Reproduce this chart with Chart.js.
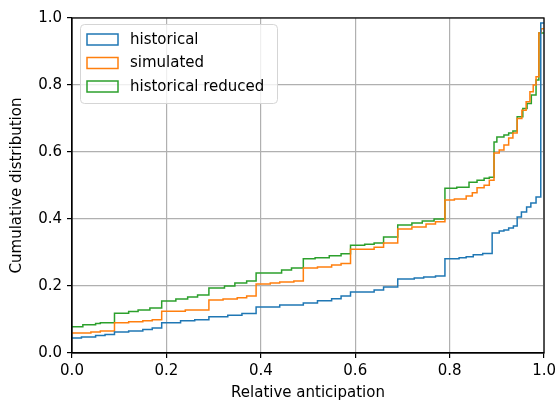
<!DOCTYPE html>
<html>
<head>
<meta charset="utf-8">
<script src="https://cdn.jsdelivr.net/npm/chart.js@4/dist/chart.umd.min.js"></script>
<style>
  html, body { margin: 0; padding: 0; background: #ffffff; }
  #wrap { width: 560px; height: 406px; }
</style>
</head>
<body>
<div id="wrap"><canvas id="c" width="560" height="406"></canvas></div>
<script>
// Cumulative step curves: left bin edge -> cumulative share from that edge on
const historicalEdges = [0, 0.02, 0.05, 0.07, 0.09, 0.12, 0.15, 0.17, 0.19, 0.23, 0.26, 0.29, 0.33, 0.36, 0.39,
  0.44, 0.49, 0.52, 0.55, 0.57, 0.59, 0.64, 0.66, 0.69, 0.725, 0.745, 0.77, 0.79, 0.82, 0.835, 0.85, 0.87,
  0.89, 0.905, 0.915, 0.925, 0.935, 0.943, 0.952, 0.963, 0.972, 0.983, 0.993];
const historicalValues = [0.045, 0.048, 0.052, 0.055, 0.063, 0.066, 0.070, 0.075, 0.090, 0.096, 0.099, 0.108, 0.113, 0.118, 0.137,
  0.143, 0.149, 0.156, 0.162, 0.170, 0.182, 0.188, 0.197, 0.221, 0.224, 0.227, 0.230, 0.281, 0.284, 0.287, 0.293, 0.297,
  0.358, 0.364, 0.367, 0.373, 0.379, 0.406, 0.421, 0.436, 0.448, 0.466, 0.985];

const simulatedEdges = [0, 0.04, 0.06, 0.09, 0.12, 0.15, 0.17, 0.19, 0.24, 0.29, 0.32, 0.35, 0.37, 0.39,
  0.42, 0.44, 0.47, 0.49, 0.52, 0.55, 0.57, 0.59, 0.64, 0.66, 0.69, 0.72, 0.75, 0.77, 0.79, 0.81, 0.835,
  0.848, 0.858, 0.873, 0.884, 0.894, 0.905, 0.915, 0.925, 0.934, 0.943, 0.953, 0.962, 0.970, 0.977, 0.983,
  0.989, 0.994];
const simulatedValues = [0.060, 0.063, 0.066, 0.090, 0.093, 0.096, 0.099, 0.125, 0.128, 0.158, 0.161, 0.165, 0.170, 0.206,
  0.209, 0.212, 0.215, 0.254, 0.257, 0.263, 0.267, 0.310, 0.316, 0.328, 0.370, 0.376, 0.385, 0.392, 0.457, 0.460, 0.469,
  0.478, 0.493, 0.501, 0.516, 0.597, 0.606, 0.621, 0.642, 0.657, 0.700, 0.725, 0.750, 0.780, 0.800, 0.825,
  0.955, 0.968];

const reducedEdges = [0, 0.023, 0.05, 0.06, 0.09, 0.12, 0.14, 0.165, 0.19, 0.22, 0.245, 0.266, 0.29, 0.323, 0.345, 0.37, 0.39,
  0.444, 0.465, 0.49, 0.515, 0.545, 0.57, 0.59, 0.62, 0.64, 0.66, 0.69, 0.72, 0.742, 0.767, 0.79, 0.815,
  0.841, 0.858, 0.873, 0.884, 0.894, 0.90, 0.915, 0.925, 0.934, 0.943, 0.955, 0.964, 0.973, 0.983, 0.989];
const reducedValues = [0.078, 0.084, 0.088, 0.090, 0.119, 0.124, 0.128, 0.134, 0.155, 0.161, 0.167, 0.173, 0.194, 0.200, 0.209, 0.215, 0.239,
  0.248, 0.254, 0.281, 0.284, 0.290, 0.296, 0.322, 0.325, 0.328, 0.346, 0.382, 0.388, 0.394, 0.400, 0.492, 0.495,
  0.510, 0.516, 0.522, 0.525, 0.630, 0.645, 0.651, 0.657, 0.663, 0.705, 0.730, 0.745, 0.770, 0.815, 0.955];

const seriesNames = ['historical', 'simulated', 'historical reduced'];
const tickValues = [0, 0.2, 0.4, 0.6, 0.8, 1.0];

function stepPoints(edges, values) {
  const pts = edges.map((x, i) => ({ x: x, y: values[i] }));
  pts.push({ x: 1.0, y: values[values.length - 1] });
  return pts;
}

const FONT = 'DejaVu Sans';
const GRID = '#b0b0b0';

// Box around the plotting area (top and right sides too)
const framePlugin = {
  id: 'frame',
  afterDatasetsDraw(chart) {
    const { ctx, chartArea: a } = chart;
    ctx.save();
    ctx.strokeStyle = '#000000';
    ctx.lineWidth = 1.2;
    ctx.strokeRect(a.left, a.top, a.right - a.left, a.bottom - a.top);
    ctx.restore();
  }
};

// Framed legend in the upper-left corner with outlined patch handles
const boxLegendPlugin = {
  id: 'boxLegend',
  afterDraw(chart) {
    const { ctx, chartArea: a } = chart;
    const x0 = a.left + 8, y0 = a.top + 6, w = 197, h = 79, r = 4;
    ctx.save();
    ctx.beginPath();
    ctx.roundRect(x0 + 0.5, y0 + 0.5, w, h, r);
    ctx.fillStyle = 'rgba(255,255,255,0.8)';
    ctx.fill();
    ctx.strokeStyle = '#d5d5d5';
    ctx.lineWidth = 1;
    ctx.stroke();
    ctx.font = '15px "' + FONT + '"';
    ctx.textBaseline = 'middle';
    chart.data.datasets.forEach((ds, i) => {
      const cy = y0 + 15.5 + i * 23.5;
      ctx.strokeStyle = ds.borderColor;
      ctx.lineWidth = 1.5;
      ctx.strokeRect(x0 + 7, cy - 5.5, 31, 11);
      ctx.fillStyle = '#000000';
      ctx.fillText(ds.label, x0 + 50, cy + 0.5);
    });
    ctx.restore();
  }
};

const colors = ['#1f77b4', '#ff7f0e', '#2ca02c'];
const pointSets = [
  stepPoints(historicalEdges, historicalValues),
  stepPoints(simulatedEdges, simulatedValues),
  stepPoints(reducedEdges, reducedValues)
];

Chart.defaults.font.family = FONT;
Chart.defaults.font.size = 15;
Chart.defaults.color = '#000000';

new Chart(document.getElementById('c'), {
  type: 'line',
  data: {
    datasets: pointSets.map((pts, i) => ({
      label: seriesNames[i],
      data: pts,
      borderColor: colors[i],
      backgroundColor: colors[i],
      borderWidth: 1.5,
      // hold each value across its bin, then rise at the next edge
      stepped: 'before',
      pointRadius: 0,
      fill: false
    }))
  },
  options: {
    responsive: false,
    animation: false,
    events: [],
    layout: { padding: { left: 0, right: 15, top: 18, bottom: 0 } },
    plugins: { legend: { display: false }, tooltip: { enabled: false } },
    scales: {
      x: {
        type: 'linear',
        min: 0, max: 1,
        afterBuildTicks(scale) { scale.ticks = tickValues.map(v => ({ value: v })); },
        afterFit(scale) { scale.height = 53; },
        ticks: { callback: v => v.toFixed(1), padding: 4, maxRotation: 0, autoSkip: false },
        grid: { color: GRID, lineWidth: 1.2, tickColor: '#000000', tickLength: 5, tickWidth: 1.2 },
        border: { display: true, color: '#000000', width: 1.2 },
        title: { display: true, text: 'Relative anticipation', padding: { top: 0, bottom: 4 } }
      },
      y: {
        type: 'linear',
        min: 0, max: 1,
        afterBuildTicks(scale) { scale.ticks = tickValues.map(v => ({ value: v })); },
        afterFit(scale) { scale.width = 72; },
        ticks: { callback: v => v.toFixed(1), padding: 5, autoSkip: false },
        grid: { color: GRID, lineWidth: 1.2, tickColor: '#000000', tickLength: 5, tickWidth: 1.2 },
        border: { display: true, color: '#000000', width: 1.2 },
        title: { display: true, text: 'Cumulative distribution', padding: { top: 8, bottom: 0 } }
      }
    }
  },
  plugins: [framePlugin, boxLegendPlugin]
});
</script>
</body>
</html>
